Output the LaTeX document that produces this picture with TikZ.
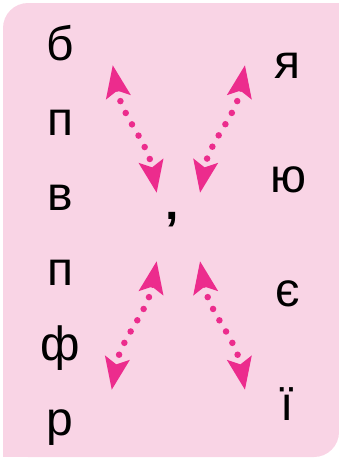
\documentclass[tikz,border=0pt]{standalone}
\usepackage{fontspec}
\setmainfont{Liberation Sans}
\usetikzlibrary{arrows.meta}
\definecolor{bgpink}{HTML}{F9D4E5}
\definecolor{mag}{HTML}{EC2C8D}
\begin{document}
\begin{tikzpicture}[x=1pt,y=-1pt,
  letter/.style={anchor=base, font=\fontsize{48}{48}\selectfont, text=black, inner sep=0pt},
  dotarrow/.style={draw=mag, line width=6.5pt, line cap=round, dash pattern=on 0pt off 13pt,
    {Stealth[length=32pt,width=24pt,inset=6pt,fill=mag]}-{Stealth[length=32pt,width=24pt,inset=6pt,fill=mag]}}]
\useasboundingbox (0,0) rectangle (339,458);
% background
\fill[bgpink, rounded corners=25pt] (3,3) rectangle (339,457);
\fill[bgpink] (300,3) rectangle (339,50);
\fill[bgpink] (3,420) rectangle (40,457);
% left column
\node[letter] (l1) at (60,60) {б};
\node[letter] (l2) at (60,135) {п};
\node[letter] (l3) at (60,210) {в};
\node[letter] (l4) at (60,285) {п};
\node[letter] (l5) at (60,360) {ф};
\node[letter] (l6) at (60,435) {р};
% right column
\node[letter] (r1) at (287,78) {я};
\node[letter] (r2) at (288,192) {ю};
\node[letter] (r3) at (287.5,306) {є};
\node[letter] (r4) at (287,420) {ї};
% comma
\node[letter, font=\fontsize{48}{48}\selectfont\bfseries] (cm) at (172.5,219) {,};
% arrow end points
\coordinate (a1) at (112.7,65);
\coordinate (a2) at (156.7,193);
\coordinate (b1) at (245,65);
\coordinate (b2) at (200,193);
\coordinate (c1) at (156.7,261);
\coordinate (c2) at (111.7,390);
\coordinate (d1) at (200,261);
\coordinate (d2) at (245,390);
\draw[dotarrow] (a1) to[out=-80,in=100] (a2);
\draw[dotarrow] (b1) to[out=-100,in=80] (b2);
\draw[dotarrow] (c1) to[out=-100,in=80] (c2);
\draw[dotarrow] (d1) to[out=-80,in=100] (d2);
\end{tikzpicture}
\end{document}
